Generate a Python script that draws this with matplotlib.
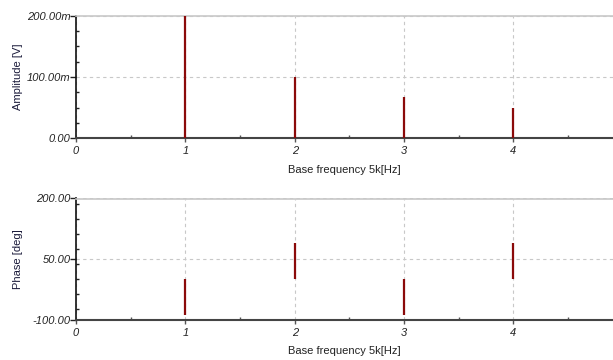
import matplotlib
matplotlib.use("Agg")
import matplotlib.pyplot as plt
import numpy as np
from matplotlib.ticker import FuncFormatter, MultipleLocator

# harmonics (units of the 5 kHz base frequency)
harmonic = [0, 1, 2, 3, 4]
amplitude = [0.0, 0.200, 0.100, 0.0667, 0.050]   # V
phase = [0.0, -90.0, 90.0, -90.0, 90.0]           # deg

xticks = [0, 1, 2, 3, 4]
amp_ticks = [0.0, 0.1, 0.2]
amp_labels = ["0.00", "100.00m", "200.00m"]
ph_ticks = [-100, 50, 200]
ph_labels = ["-100.00", "50.00", "200.00"]

stem_col = "#8b0a0a"
grid_col = "#c8c8c8"

plt.rcParams['font.family'] = ['Liberation Sans', 'DejaVu Sans']

fig = plt.figure(figsize=(6.13, 3.6), dpi=100)
ax1 = fig.add_axes([76/613, 1-138/360, 1-76/613, 122/360])
ax2 = fig.add_axes([76/613, 1-319.5/360, 1-76/613, 121/360])


def style(ax, yt, yl, ylabel, ylim, minor):
    ax.set_xlim(0, 4.91)
    ax.set_ylim(*ylim)
    ax.set_xticks(xticks)
    ax.set_xticklabels([str(t) for t in xticks], fontstyle='italic', fontsize=8, color='#222222')
    ax.set_yticks(yt)
    ax.set_yticklabels(yl, fontstyle='italic', fontsize=8, color='#222222')
    ax.xaxis.set_minor_locator(MultipleLocator(0.5))
    ax.yaxis.set_minor_locator(MultipleLocator(minor))
    ax.tick_params(axis='x', which='major', direction='out', length=3, width=1, color='#555555', pad=3)
    ax.tick_params(axis='x', which='minor', direction='in', length=2, width=1, color='#555555')
    ax.tick_params(axis='y', which='major', direction='out', length=4, width=1, color='#222222', pad=0)
    ax.tick_params(axis='y', which='minor', direction='in', length=2, width=1, color='#222222')
    ax.grid(True, which='major', linestyle=(0, (3, 3)), color=grid_col, linewidth=0.8)
    ax.spines['left'].set_color('#111111')
    ax.spines['left'].set_linewidth(1.2)
    ax.spines['bottom'].set_color('#444444')
    ax.spines['bottom'].set_linewidth(1.5)
    ax.spines['top'].set_color('#c8c8c8')
    ax.spines['top'].set_linewidth(1.2)
    ax.spines['right'].set_visible(False)
    ax.set_xlabel("Base frequency 5k[Hz]", fontsize=8, color='#222222', labelpad=6)
    ax.set_ylabel(ylabel, fontsize=8, color='#1a1a3a')
    ax.yaxis.set_label_coords(-0.098, 0.5)


style(ax1, amp_ticks, amp_labels, "Amplitude [V]", (0, 0.2), 0.025)
style(ax2, ph_ticks, ph_labels, "Phase [deg]", (-100, 200), 37.5)

ax1.vlines(harmonic, 0, amplitude, color=stem_col, linewidth=1.6, zorder=3)
ax2.vlines(harmonic, 0, phase, color=stem_col, linewidth=1.6, zorder=3)

fig.savefig("out.png", dpi=100)
